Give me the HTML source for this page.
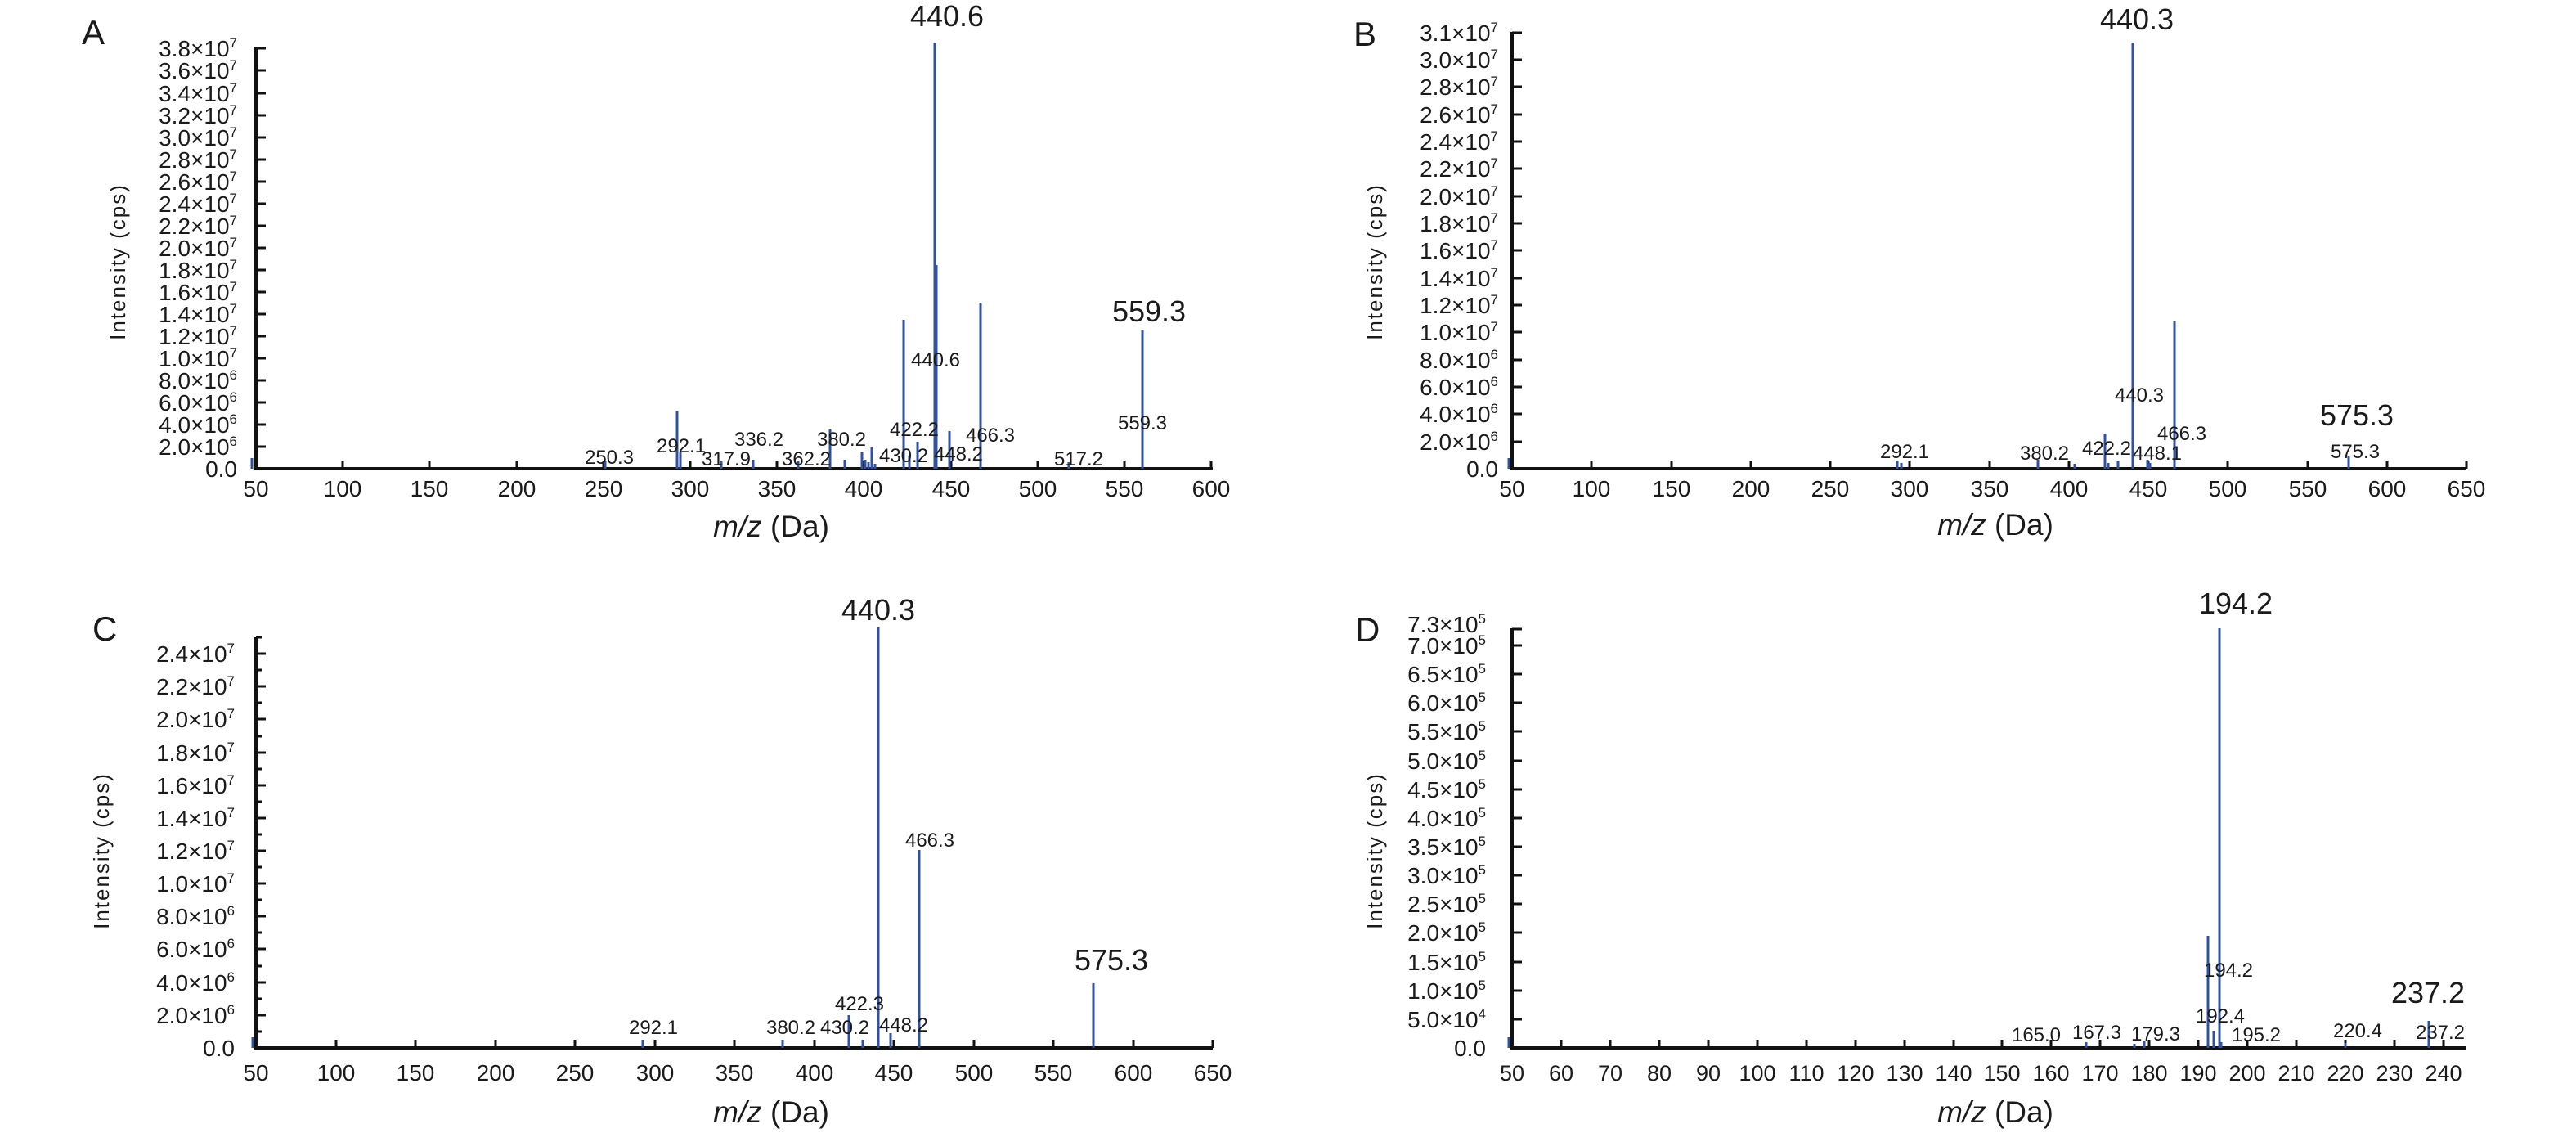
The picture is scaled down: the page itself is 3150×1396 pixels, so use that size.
<!DOCTYPE html>
<html><head><meta charset="utf-8"><style>
html,body{margin:0;padding:0;background:#fff}
svg{display:block}
text{font-family:"Liberation Sans",sans-serif;fill:#1a1a1a}
.yl{font-size:28px;text-anchor:end}
.xl{font-size:28px;text-anchor:middle}
.sm{font-size:24px;text-anchor:middle}
.bg{font-size:36px;text-anchor:middle}
.pl{font-size:42px}
.al{font-size:37px;text-anchor:middle}
.il{font-size:26px;letter-spacing:2px;text-anchor:middle}
.ax{stroke:#111;stroke-width:4;fill:none}
.tk{stroke:#111;stroke-width:3}
.pk{stroke:#3050a0;stroke-width:3}
</style></head><body>
<svg width="3150" height="1396" viewBox="0 0 3150 1396" xmlns="http://www.w3.org/2000/svg">

<!-- ============ PANEL A ============ -->
<text class="pl" x="100" y="54">A</text>
<path class="ax" d="M313 58 V573 H1483"/>
<g class="tk">
<path d="M313 573h12M313 546h12M313 519h12M313 492h12M313 465h12M313 438h12M313 411h12M313 384h12M313 357h12M313 330h12M313 303h12M313 276h12M313 249h12M313 222h12M313 195h12M313 168h12M313 141h12M313 114h12M313 86h12M313 59h12"/>
<path d="M419 573v-10M525 573v-10M632 573v-10M738 573v-10M844 573v-10M950 573v-10M1056 573v-10M1163 573v-10M1269 573v-10M1375 573v-10M1481 573v-10"/>
</g>
<g class="yl">
<text x="290" y="583">0.0</text>
<text x="290" y="556">2.0×10<tspan font-size="17" dy="-11">6</tspan></text>
<text x="290" y="529">4.0×10<tspan font-size="17" dy="-11">6</tspan></text>
<text x="290" y="502">6.0×10<tspan font-size="17" dy="-11">6</tspan></text>
<text x="290" y="475">8.0×10<tspan font-size="17" dy="-11">6</tspan></text>
<text x="290" y="448">1.0×10<tspan font-size="17" dy="-11">7</tspan></text>
<text x="290" y="421">1.2×10<tspan font-size="17" dy="-11">7</tspan></text>
<text x="290" y="394">1.4×10<tspan font-size="17" dy="-11">7</tspan></text>
<text x="290" y="367">1.6×10<tspan font-size="17" dy="-11">7</tspan></text>
<text x="290" y="340">1.8×10<tspan font-size="17" dy="-11">7</tspan></text>
<text x="290" y="313">2.0×10<tspan font-size="17" dy="-11">7</tspan></text>
<text x="290" y="286">2.2×10<tspan font-size="17" dy="-11">7</tspan></text>
<text x="290" y="259">2.4×10<tspan font-size="17" dy="-11">7</tspan></text>
<text x="290" y="232">2.6×10<tspan font-size="17" dy="-11">7</tspan></text>
<text x="290" y="205">2.8×10<tspan font-size="17" dy="-11">7</tspan></text>
<text x="290" y="178">3.0×10<tspan font-size="17" dy="-11">7</tspan></text>
<text x="290" y="151">3.2×10<tspan font-size="17" dy="-11">7</tspan></text>
<text x="290" y="124">3.4×10<tspan font-size="17" dy="-11">7</tspan></text>
<text x="290" y="96">3.6×10<tspan font-size="17" dy="-11">7</tspan></text>
<text x="290" y="69">3.8×10<tspan font-size="17" dy="-11">7</tspan></text>
</g>
<g class="xl">
<text x="313" y="607">50</text><text x="419" y="607">100</text><text x="525" y="607">150</text><text x="632" y="607">200</text><text x="738" y="607">250</text><text x="844" y="607">300</text><text x="950" y="607">350</text><text x="1056" y="607">400</text><text x="1163" y="607">450</text><text x="1269" y="607">500</text><text x="1375" y="607">550</text><text x="1481" y="607">600</text>
</g>
<text class="il" transform="translate(153,320) rotate(-90)">Intensity (cps)</text>
<text class="al" x="943" y="656"><tspan font-style="italic">m/z</tspan> (Da)</text>
<g class="pk">
<path d="M308 560V573M740 563V573M828 503V573M832 553V573M882 563V573M921 562V573M976 563V573M1015 525V573M1033 562V573M1054 553V573M1058 562V573M1062 565V573M1066 547V573M1070 567V573M1105 391V573M1112 558V573M1122 540V573M1143 52V573M1145 324V573M1161 527V573M1199 371V573M1307 565V573M1397 403V573"/>
</g>
<g class="sm">
<text x="745" y="567">250.3</text><text x="833" y="553">292.1</text><text x="888" y="569">317.9</text><text x="928" y="545">336.2</text><text x="986" y="569">362.2</text><text x="1029" y="545">380.2</text><text x="1118" y="533">422.2</text><text x="1105" y="565">430.2</text><text x="1172" y="563">448.2</text><text x="1211" y="540">466.3</text><text x="1319" y="569">517.2</text><text x="1397" y="525">559.3</text><text x="1144" y="448">440.6</text>
</g>
<text class="bg" x="1158" y="32">440.6</text>
<text class="bg" x="1405" y="393">559.3</text>

<!-- ============ PANEL B ============ -->
<text class="pl" x="1655" y="56">B</text>
<path class="ax" d="M1849 39 V573 H3016"/>
<g class="tk">
<path d="M1849 573h12M1849 540h12M1849 506h12M1849 473h12M1849 440h12M1849 406h12M1849 373h12M1849 340h12M1849 306h12M1849 273h12M1849 240h12M1849 206h12M1849 173h12M1849 140h12M1849 106h12M1849 73h12M1849 40h12"/>
<path d="M1946 573v-10M2044 573v-10M2141 573v-10M2238 573v-10M2335 573v-10M2433 573v-10M2530 573v-10M2627 573v-10M2724 573v-10M2822 573v-10M2919 573v-10M3016 573v-10"/>
</g>
<g class="yl">
<text x="1832" y="583">0.0</text>
<text x="1832" y="550">2.0×10<tspan font-size="17" dy="-11">6</tspan></text>
<text x="1832" y="516">4.0×10<tspan font-size="17" dy="-11">6</tspan></text>
<text x="1832" y="483">6.0×10<tspan font-size="17" dy="-11">6</tspan></text>
<text x="1832" y="450">8.0×10<tspan font-size="17" dy="-11">6</tspan></text>
<text x="1832" y="416">1.0×10<tspan font-size="17" dy="-11">7</tspan></text>
<text x="1832" y="383">1.2×10<tspan font-size="17" dy="-11">7</tspan></text>
<text x="1832" y="350">1.4×10<tspan font-size="17" dy="-11">7</tspan></text>
<text x="1832" y="316">1.6×10<tspan font-size="17" dy="-11">7</tspan></text>
<text x="1832" y="283">1.8×10<tspan font-size="17" dy="-11">7</tspan></text>
<text x="1832" y="250">2.0×10<tspan font-size="17" dy="-11">7</tspan></text>
<text x="1832" y="216">2.2×10<tspan font-size="17" dy="-11">7</tspan></text>
<text x="1832" y="183">2.4×10<tspan font-size="17" dy="-11">7</tspan></text>
<text x="1832" y="150">2.6×10<tspan font-size="17" dy="-11">7</tspan></text>
<text x="1832" y="116">2.8×10<tspan font-size="17" dy="-11">7</tspan></text>
<text x="1832" y="83">3.0×10<tspan font-size="17" dy="-11">7</tspan></text>
<text x="1832" y="50">3.1×10<tspan font-size="17" dy="-11">7</tspan></text>
</g>
<g class="xl">
<text x="1849" y="607">50</text><text x="1946" y="607">100</text><text x="2044" y="607">150</text><text x="2141" y="607">200</text><text x="2238" y="607">250</text><text x="2335" y="607">300</text><text x="2433" y="607">350</text><text x="2530" y="607">400</text><text x="2627" y="607">450</text><text x="2724" y="607">500</text><text x="2822" y="607">550</text><text x="2919" y="607">600</text><text x="3016" y="607">650</text>
</g>
<text class="il" transform="translate(1690,320) rotate(-90)">Intensity (cps)</text>
<text class="al" x="2440" y="654"><tspan font-style="italic">m/z</tspan> (Da)</text>
<g class="pk">
<path d="M1845 560V573M2320 563V573M2325 566V573M2492 562V573M2537 567V573M2574 530V573M2578 566V573M2590 563V573M2608 52V573M2626 562V573M2629 566V573M2659 393V573M2872 558V573"/>
</g>
<g class="sm">
<text x="2329" y="560">292.1</text><text x="2500" y="562">380.2</text><text x="2576" y="556">422.2</text><text x="2638" y="562">448.1</text><text x="2668" y="538">466.3</text><text x="2616" y="491">440.3</text><text x="2880" y="560">575.3</text>
</g>
<text class="bg" x="2613" y="36">440.3</text>
<text class="bg" x="2882" y="520">575.3</text>

<!-- ============ PANEL C ============ -->
<text class="pl" x="113" y="783">C</text>
<path class="ax" d="M313 779 V1281 H1483"/>
<g class="tk">
<path d="M313 1241h12M313 1201h12M313 1160h12M313 1120h12M313 1080h12M313 1040h12M313 1000h12M313 960h12M313 920h12M313 879h12M313 839h12M313 799h12"/>
<path d="M313 1261h7M313 1221h7M313 1181h7M313 1140h7M313 1100h7M313 1060h7M313 1020h7M313 980h7M313 940h7M313 900h7M313 859h7M313 819h7M313 779h7"/>
<path d="M411 1281v-10M508 1281v-10M606 1281v-10M703 1281v-10M801 1281v-10M898 1281v-10M996 1281v-10M1093 1281v-10M1191 1281v-10M1288 1281v-10M1386 1281v-10M1483 1281v-10"/>
</g>
<g class="yl">
<text x="287" y="1291">0.0</text>
<text x="287" y="1251">2.0×10<tspan font-size="17" dy="-11">6</tspan></text>
<text x="287" y="1211">4.0×10<tspan font-size="17" dy="-11">6</tspan></text>
<text x="287" y="1170">6.0×10<tspan font-size="17" dy="-11">6</tspan></text>
<text x="287" y="1130">8.0×10<tspan font-size="17" dy="-11">6</tspan></text>
<text x="287" y="1090">1.0×10<tspan font-size="17" dy="-11">7</tspan></text>
<text x="287" y="1050">1.2×10<tspan font-size="17" dy="-11">7</tspan></text>
<text x="287" y="1010">1.4×10<tspan font-size="17" dy="-11">7</tspan></text>
<text x="287" y="970">1.6×10<tspan font-size="17" dy="-11">7</tspan></text>
<text x="287" y="930">1.8×10<tspan font-size="17" dy="-11">7</tspan></text>
<text x="287" y="889">2.0×10<tspan font-size="17" dy="-11">7</tspan></text>
<text x="287" y="849">2.2×10<tspan font-size="17" dy="-11">7</tspan></text>
<text x="287" y="809">2.4×10<tspan font-size="17" dy="-11">7</tspan></text>
</g>
<g class="xl">
<text x="313" y="1321">50</text><text x="411" y="1321">100</text><text x="508" y="1321">150</text><text x="606" y="1321">200</text><text x="703" y="1321">250</text><text x="801" y="1321">300</text><text x="898" y="1321">350</text><text x="996" y="1321">400</text><text x="1093" y="1321">450</text><text x="1191" y="1321">500</text><text x="1288" y="1321">550</text><text x="1386" y="1321">600</text><text x="1483" y="1321">650</text>
</g>
<text class="il" transform="translate(133,1040) rotate(-90)">Intensity (cps)</text>
<text class="al" x="943" y="1372"><tspan font-style="italic">m/z</tspan> (Da)</text>
<g class="pk">
<path d="M309 1268V1281M786 1271V1281M957 1271V1281M1038 1241V1281M1055 1271V1281M1074 767V1281M1089 1263V1281M1124 1039V1281M1337 1202V1281"/>
</g>
<g class="sm">
<text x="799" y="1264">292.1</text><text x="967" y="1264">380.2</text><text x="1033" y="1264">430.2</text><text x="1105" y="1261">448.2</text><text x="1051" y="1235">422.3</text><text x="1137" y="1035">466.3</text>
</g>
<text class="bg" x="1074" y="758">440.3</text>
<text class="bg" x="1359" y="1186">575.3</text>

<!-- ============ PANEL D ============ -->
<text class="pl" x="1657" y="784">D</text>
<path class="ax" d="M1849 768 V1281 H3016"/>
<g class="tk">
<path d="M1849 1246h12M1849 1211h12M1849 1176h12M1849 1140h12M1849 1105h12M1849 1070h12M1849 1035h12M1849 1000h12M1849 965h12M1849 930h12M1849 894h12M1849 859h12M1849 824h12M1849 789h12M1849 769h12"/>
<path d="M1909 1281v-10M1969 1281v-10M2029 1281v-10M2089 1281v-10M2149 1281v-10M2209 1281v-10M2269 1281v-10M2329 1281v-10M2389 1281v-10M2448 1281v-10M2508 1281v-10M2568 1281v-10M2628 1281v-10M2688 1281v-10M2748 1281v-10M2808 1281v-10M2868 1281v-10M2928 1281v-10M2988 1281v-10"/>
</g>
<g class="yl">
<text x="1817" y="1291">0.0</text>
<text x="1817" y="1256">5.0×10<tspan font-size="17" dy="-11">4</tspan></text>
<text x="1817" y="1221">1.0×10<tspan font-size="17" dy="-11">5</tspan></text>
<text x="1817" y="1186">1.5×10<tspan font-size="17" dy="-11">5</tspan></text>
<text x="1817" y="1150">2.0×10<tspan font-size="17" dy="-11">5</tspan></text>
<text x="1817" y="1115">2.5×10<tspan font-size="17" dy="-11">5</tspan></text>
<text x="1817" y="1080">3.0×10<tspan font-size="17" dy="-11">5</tspan></text>
<text x="1817" y="1045">3.5×10<tspan font-size="17" dy="-11">5</tspan></text>
<text x="1817" y="1010">4.0×10<tspan font-size="17" dy="-11">5</tspan></text>
<text x="1817" y="975">4.5×10<tspan font-size="17" dy="-11">5</tspan></text>
<text x="1817" y="940">5.0×10<tspan font-size="17" dy="-11">5</tspan></text>
<text x="1817" y="904">5.5×10<tspan font-size="17" dy="-11">5</tspan></text>
<text x="1817" y="869">6.0×10<tspan font-size="17" dy="-11">5</tspan></text>
<text x="1817" y="834">6.5×10<tspan font-size="17" dy="-11">5</tspan></text>
<text x="1817" y="799">7.0×10<tspan font-size="17" dy="-11">5</tspan></text>
<text x="1817" y="773">7.3×10<tspan font-size="17" dy="-11">5</tspan></text>
</g>
<g class="xl" style="font-size:27px">
<text x="1849" y="1321">50</text><text x="1909" y="1321">60</text><text x="1969" y="1321">70</text><text x="2029" y="1321">80</text><text x="2089" y="1321">90</text><text x="2149" y="1321">100</text><text x="2209" y="1321">110</text><text x="2269" y="1321">120</text><text x="2329" y="1321">130</text><text x="2389" y="1321">140</text><text x="2448" y="1321">150</text><text x="2508" y="1321">160</text><text x="2568" y="1321">170</text><text x="2628" y="1321">180</text><text x="2688" y="1321">190</text><text x="2748" y="1321">200</text><text x="2808" y="1321">210</text><text x="2868" y="1321">220</text><text x="2928" y="1321">230</text><text x="2988" y="1321">240</text>
</g>
<text class="il" transform="translate(1690,1040) rotate(-90)">Intensity (cps)</text>
<text class="al" x="2440" y="1372"><tspan font-style="italic">m/z</tspan> (Da)</text>
<g class="pk">
<path d="M1845 1268V1281M2551 1274V1281M2610 1276V1281M2622 1273V1281M2700 1144V1281M2707 1260V1281M2714 768V1281M2716 1274V1281M2868 1275V1281M2970 1248V1281"/>
</g>
<g class="sm">
<text x="2490" y="1273">165.0</text><text x="2564" y="1270">167.3</text><text x="2636" y="1272">179.3</text><text x="2715" y="1250">192.4</text><text x="2725" y="1194">194.2</text><text x="2759" y="1273">195.2</text><text x="2883" y="1268">220.4</text><text x="2984" y="1270">237.2</text>
</g>
<text class="bg" x="2734" y="750">194.2</text>
<text class="bg" x="2969" y="1226">237.2</text>
</svg>
</body></html>
